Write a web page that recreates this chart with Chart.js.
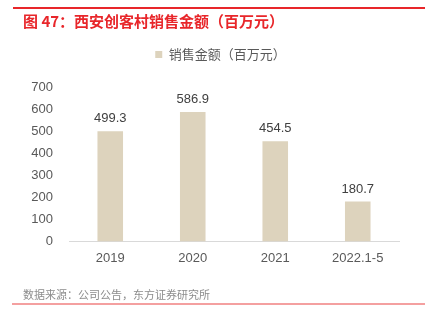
<!DOCTYPE html>
<html>
<head>
<meta charset="utf-8">
<script src="https://cdn.jsdelivr.net/npm/chart.js@4"></script>
<style>
  body { margin: 0; background: #fff; font-family: "Noto Sans CJK SC", sans-serif; }
  #wrap { position: relative; width: 425px; height: 329px; overflow: hidden; }
  #topline { position: absolute; left: 13px; top: 7px; width: 412px; height: 2px; background: #e8262a; }
  #title { position: absolute; left: 23px; top: 11px; font-size: 15px; font-weight: bold; color: #e8262a; line-height: 20px; }
  #source { position: absolute; left: 23px; top: 285px; font-size: 11px; color: #8c8c8c; line-height: 18px; }
  #botline { position: absolute; left: 12px; top: 303px; width: 413px; height: 2px; background: #f4a0a0; }
  #box { position: absolute; left: 0; top: 0; width: 425px; height: 329px; }
</style>
</head>
<body>
<div id="wrap">
  <div id="box"><canvas id="SalesChart" width="425" height="329"></canvas></div>
  <div id="topline"></div>
  <div id="title">图 47：西安创客村销售金额（百万元）</div>
  <div id="source">数据来源：公司公告，东方证券研究所</div>
  <div id="botline"></div>
</div>
<script>
const labels = ['2019', '2020', '2021', '2022.1-5'];
const sales = [499.3, 586.9, 454.5, 180.7];
const seriesName = '销售金额（百万元）';

// 柱顶数值
const valueLabels = {
  id: 'valueLabels',
  afterDatasetsDraw(chart) {
    const ctx = chart.ctx;
    const meta = chart.getDatasetMeta(0);
    ctx.save();
    ctx.font = '13px "Liberation Sans", Arial, sans-serif';
    ctx.fillStyle = '#404040';
    ctx.textAlign = 'center';
    ctx.textBaseline = 'bottom';
    meta.data.forEach(function(bar, i){
      ctx.fillText(sales[i].toFixed(1), bar.x, bar.y - 6);
    });
    ctx.restore();
  }
};

// 图例下方留白、整体右移
const legendTweak = {
  id: 'legendTweak',
  beforeLayout(chart) {
    const lg = chart.legend;
    if (lg && !lg._patched) {
      const fit = lg.fit;
      lg.fit = function(){ fit.call(this); this.height += 16; };
      lg._patched = true;
    }
  },
  afterLayout(chart) {
    const lg = chart.legend;
    if (lg) { lg.left += 21; lg.right += 21; }
  }
};

const ctx = document.getElementById('SalesChart');
new Chart(ctx, {
  type: 'bar',
  data: {
    labels: labels,
    datasets: [{
      label: seriesName,
      data: sales,
      backgroundColor: '#ddd3bd',
      barPercentage: 0.62,
      categoryPercentage: 0.5
    }]
  },
  options: {
    responsive: false,
    animation: false,
    devicePixelRatio: 1,
    layout: { padding: { top: 40, right: 26, bottom: 54, left: 0 } },
    plugins: {
      tooltip: { enabled: false },
      legend: {
        position: 'top',
        labels: {
          boxWidth: 7,
          boxHeight: 7,
          padding: 8,
          color: '#595959',
          font: { family: '"Noto Sans CJK SC", sans-serif', size: 13 }
        }
      }
    },
    scales: {
      x: {
        grid: { display: false, drawTicks: false },
        border: { color: '#d9d9d9', width: 1 },
        ticks: {
          color: '#595959',
          padding: 9,
          font: { family: '"Liberation Sans", Arial, sans-serif', size: 13 }
        }
      },
      y: {
        min: 0,
        max: 700,
        afterFit: function(scale){ scale.width = 69; },
        grid: { display: false, drawTicks: false },
        border: { display: false },
        ticks: {
          stepSize: 100,
          color: '#595959',
          padding: 16,
          font: { family: '"Liberation Sans", Arial, sans-serif', size: 13 }
        }
      }
    }
  },
  plugins: [valueLabels, legendTweak]
});
</script>
</body>
</html>
